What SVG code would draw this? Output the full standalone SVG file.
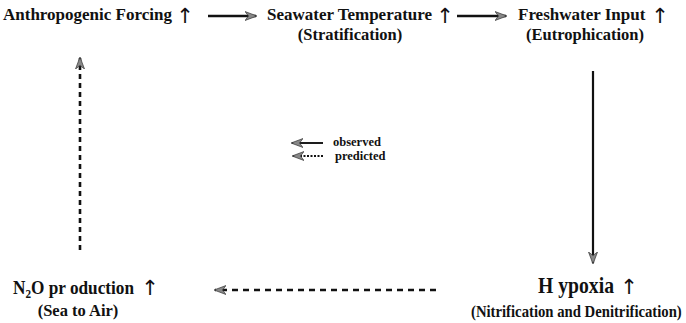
<svg xmlns="http://www.w3.org/2000/svg" width="686" height="323" viewBox="0 0 686 323">
<style>
.t{font-family:"Liberation Serif","Times New Roman",serif;font-weight:bold;fill:#111}
.m{font-size:17px}
.s{font-size:16.5px}
.l{font-size:12.5px}
.ar{font-family:"DejaVu Sans","Liberation Sans",sans-serif;font-weight:normal;font-size:21px;fill:#111}
.c{stroke:#111;fill:none}
</style>
<defs>
<marker id="ah" viewBox="0 0 12 10" refX="11" refY="5" markerWidth="12" markerHeight="10" markerUnits="userSpaceOnUse" orient="auto">
<path d="M0,0.5 L12,5 L0,9.5 L3.5,5 Z" fill="#888" stroke="#333" stroke-width="0.7"/>
</marker>
</defs>
<rect width="686" height="323" fill="#fff"/>
<g id="connectors">
<line class="c" x1="208" y1="16" x2="256" y2="16" stroke-width="2.4" marker-end="url(#ah)"/>
<line class="c" x1="457" y1="16" x2="506" y2="16" stroke-width="2.4" marker-end="url(#ah)"/>
<line class="c" x1="593" y1="71" x2="593" y2="263" stroke-width="2.2" marker-end="url(#ah)"/>
<line class="c" x1="436" y1="290" x2="215" y2="290" stroke-width="2.6" stroke-dasharray="6,5" marker-end="url(#ah)"/>
<line class="c" x1="80" y1="250" x2="80" y2="58" stroke-width="2.6" stroke-dasharray="5,4" marker-end="url(#ah)"/>
</g>
<g id="legend">
<line class="c" x1="323" y1="143" x2="292" y2="143" stroke-width="1.9" marker-end="url(#ah)"/>
<line class="c" x1="323" y1="156" x2="293" y2="156" stroke-width="1.9" stroke-dasharray="2,1.5" marker-end="url(#ah)"/>
<text class="t l" x="333" y="146">observed</text>
<text class="t l" x="335" y="160">predicted</text>
</g>
<g id="n1">
<text class="t m" x="3" y="20">Anthropogenic Forcing</text>
<text class="ar" x="185" y="23" text-anchor="middle">↑</text>
</g>
<g id="n2">
<text class="t m" x="267" y="20">Seawater Temperature</text>
<text class="ar" x="445" y="23" text-anchor="middle">↑</text>
<text class="t s" x="350" y="40" text-anchor="middle">(Stratification)</text>
</g>
<g id="n3">
<text class="t m" x="518" y="20">Freshwater Input</text>
<text class="ar" x="660" y="23" text-anchor="middle">↑</text>
<text class="t s" x="585" y="40" text-anchor="middle">(Eutrophication)</text>
</g>
<g id="n4">
<text class="t" transform="translate(538,293) scale(0.82,1)" x="0" y="0" font-size="24">H ypoxia</text>
<text class="ar" x="629" y="294" text-anchor="middle">↑</text>
<text class="t" transform="translate(471,317) scale(0.92,1)" x="0" y="0" font-size="16">(Nitrification and Denitrification)</text>
</g>
<g id="n5">
<text class="t" x="13" y="294" font-size="18.5" textLength="121" lengthAdjust="spacingAndGlyphs">N<tspan font-size="12" dy="4">2</tspan><tspan dy="-4">O  pr oduction</tspan></text>
<text class="ar" x="150" y="295" text-anchor="middle">↑</text>
<text class="t s" x="78" y="316" text-anchor="middle">(Sea to Air)</text>
</g>
</svg>
